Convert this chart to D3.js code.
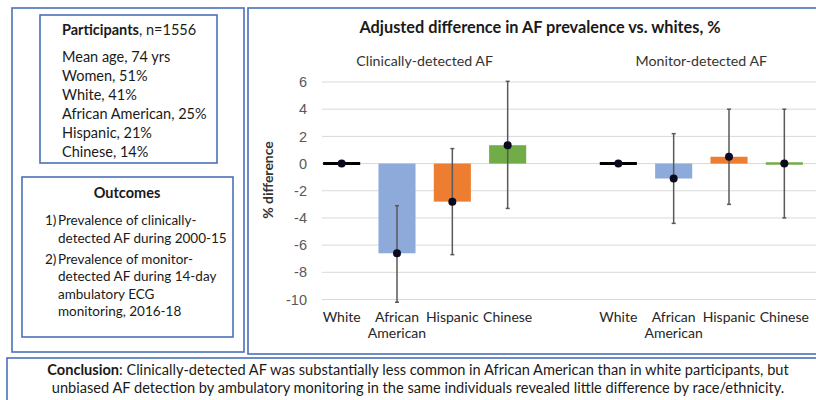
<!DOCTYPE html>
<html lang="en">
<head>
<meta charset="UTF-8">
<title>AF prevalence by race/ethnicity</title>
<style>
    body { margin: 0; background: #fff; }
    svg { display: block; font-family: Lato, "Open Sans", sans-serif; }
    .frame { fill: #fff; stroke: #4a70b8; stroke-width: 1.6; }
    .grid line { stroke: #d9d9d9; stroke-width: 1; }
    .tick-label { fill: #595959; font-size: 14.5px; }
    .cat-label { fill: #262626; font-size: 14px; }
</style>
</head>
<body>
<svg width="816" height="400"></svg>

<script src="https://d3js.org/d3.v7.min.js"></script>
<script>
    // ---- data ----
    var races = ["White", "African American", "Hispanic", "Chinese"];
    var groups = ["Clinically-detected AF", "Monitor-detected AF"];
    var raceColors = ["#000000", "#8eaadb", "#ed7d31", "#70ad47"];

    var clinicalVal = [0, -6.6, -2.8, 1.35];
    var clinicalLow = [0, -10.2, -6.7, -3.3];
    var clinicalHigh = [0, -3.1, 1.1, 6.05];

    var monitorVal = [0, -1.1, 0.5, 0];
    var monitorLow = [0, -4.4, -3.0, -4.0];
    var monitorHigh = [0, 2.2, 4.0, 4.0];

    var yTicks = [6, 4, 2, 0, -2, -4, -6, -8, -10];

    var participantLines = ["Mean age, 74 yrs", "Women, 51%", "White, 41%",
        "African American, 25%", "Hispanic, 21%", "Chinese, 14%"];
    var outcomeLines = [
        ["1)", "Prevalence of clinically-", "detected AF during 2000-15"],
        ["2)", "Prevalence of monitor-", "detected AF during 14-day", "ambulatory ECG", "monitoring, 2016-18"]
    ];
    var conclusionLines = [
        "Clinically-detected AF was substantially less common in African American than in white participants, but",
        "unbiased AF detection by ambulatory monitoring in the same individuals revealed little difference by race/ethnicity."
    ];

    var svg = d3.select("svg");

    // ---- panels ----
    svg.append("rect").attr("class", "frame").attr("x", 12).attr("y", 8).attr("width", 232).attr("height", 344);
    svg.append("rect").attr("class", "frame").attr("x", 40).attr("y", 15).attr("width", 177).attr("height", 148);
    svg.append("rect").attr("class", "frame").attr("x", 22).attr("y", 177).attr("width", 211).attr("height", 160);
    svg.append("rect").attr("class", "frame").attr("x", 248).attr("y", 8).attr("width", 580).attr("height", 346);
    svg.append("rect").attr("class", "frame").attr("x", 7).attr("y", 358).attr("width", 820).attr("height", 60);

    // participants
    var pt = svg.append("text").attr("x", 62).attr("y", 35).attr("font-size", 14.5).attr("fill", "#1a1a1a");
    pt.append("tspan").attr("font-weight", "bold").text("Participants");
    pt.append("tspan").text(", n=1556");
    svg.selectAll(".pline").data(participantLines).enter().append("text")
        .attr("class", "pline")
        .attr("x", 62)
        .attr("y", function (d, i) { return 62 + i * 19; })
        .attr("font-size", 14.5)
        .attr("fill", "#1a1a1a")
        .text(function (d) { return d; });

    // outcomes
    svg.append("text").attr("x", 127).attr("y", 198).attr("text-anchor", "middle")
        .attr("font-size", 14.5).attr("font-weight", "bold").attr("fill", "#1a1a1a").text("Outcomes");
    var oy = 225;
    outcomeLines.forEach(function (item) {
        item.slice(1).forEach(function (line, j) {
            if (j === 0) {
                svg.append("text").attr("x", 45).attr("y", oy).attr("font-size", 13.5).attr("fill", "#1a1a1a").text(item[0]);
            }
            svg.append("text").attr("x", 58).attr("y", oy).attr("font-size", 13.5).attr("fill", "#1a1a1a").text(line);
            oy += 17.5;
        });
        oy += 3.5;
    });

    // conclusion
    svg.selectAll(".cline").data(conclusionLines).enter().append("text")
        .attr("class", "cline")
        .attr("x", 418)
        .attr("y", function (d, i) { return 375 + i * 18; })
        .attr("text-anchor", "middle")
        .attr("font-size", 14.6)
        .attr("fill", "#1a1a1a")
        .each(function (d, i) {
            var t = d3.select(this);
            if (i === 0) t.append("tspan").attr("font-weight", "bold").text("Conclusion");
            t.append("tspan").text(i === 0 ? ": " + d : d);
        });

    // ---- chart ----
    var slots = [];
    groups.forEach(function (g, gi) {
        if (gi > 0) slots.push("gap");
        races.forEach(function (r) { slots.push(g + "|" + r); });
    });

    var x = d3.scaleBand()
        .domain(slots)
        .range([314, 812])
        .paddingInner(0.33)
        .paddingOuter(0.165);

    var y = d3.scaleLinear()
        .domain([-10, 6])
        .range([299.5, 82]);

    var gridLeft = 322, gridRight = 816;

    // grid
    svg.append("g").attr("class", "grid")
        .selectAll("line").data(yTicks).enter().append("line")
        .attr("x1", gridLeft).attr("x2", gridRight)
        .attr("y1", function (d) { return y(d); })
        .attr("y2", function (d) { return y(d); });

    // y axis (labels only, Excel style, plain hyphen minus)
    var yAxis = svg.append("g")
        .attr("transform", "translate(" + 311 + ",0)")
        .call(d3.axisLeft(y).tickValues(yTicks).tickSize(0).tickPadding(4)
            .tickFormat(function (d) { return String(d); }));
    yAxis.select(".domain").remove();
    yAxis.selectAll("text").attr("class", "tick-label").attr("font-family", null).attr("font-size", null);

    svg.append("text")
        .attr("transform", "translate(273," + 180 + ") rotate(-90)")
        .attr("text-anchor", "middle")
        .attr("font-size", 14)
        .attr("font-weight", "bold")
        .attr("fill", "#333")
        .text("% difference");

    // titles
    svg.append("text").attr("x", 540).attr("y", 33).attr("text-anchor", "middle")
        .attr("font-size", 16.3).attr("font-weight", "bold").attr("fill", "#1a1a1a")
        .text("Adjusted difference in AF prevalence vs. whites, %");

    var series = [
        { group: groups[0], val: clinicalVal, low: clinicalLow, high: clinicalHigh },
        { group: groups[1], val: monitorVal, low: monitorLow, high: monitorHigh }
    ];

    series.forEach(function (s) {
        var first = x(s.group + "|" + races[0]);
        var last = x(s.group + "|" + races[races.length - 1]) + x.bandwidth();
        svg.append("text")
            .attr("x", (first + last) / 2)
            .attr("y", 66)
            .attr("text-anchor", "middle")
            .attr("font-size", 14.2)
            .attr("fill", "#333")
            .text(s.group);

        var rows = races.map(function (r, i) {
            return { key: s.group + "|" + r, race: r, v: s.val[i], lo: s.low[i], hi: s.high[i], color: raceColors[i] };
        });

        var g = svg.append("g");
        var cx = function (d) { return x(d.key) + x.bandwidth() / 2; };

        // bars
        g.selectAll("rect").data(rows.filter(function (d) { return d.v !== 0; })).enter().append("rect")
            .attr("x", function (d) { return x(d.key); })
            .attr("width", x.bandwidth())
            .attr("y", function (d) { return y(Math.max(d.v, 0)); })
            .attr("height", function (d) { return Math.abs(y(d.v) - y(0)); })
            .attr("fill", function (d) { return d.color; });

        // zero-valued bars show as a flat stroke
        g.selectAll(".zero").data(rows.filter(function (d) { return d.v === 0; })).enter().append("line")
            .attr("class", "zero")
            .attr("x1", function (d) { return x(d.key); })
            .attr("x2", function (d) { return x(d.key) + x.bandwidth(); })
            .attr("y1", y(0)).attr("y2", y(0))
            .attr("stroke", function (d) { return d.color; })
            .attr("stroke-width", function (d) { return d.color === "#000000" ? 3 : 2.5; });

        // error bars
        var err = rows.filter(function (d) { return d.lo !== d.hi; });
        g.selectAll(".err").data(err).enter().append("line")
            .attr("class", "err")
            .attr("x1", cx).attr("x2", cx)
            .attr("y1", function (d) { return y(d.lo); })
            .attr("y2", function (d) { return y(d.hi); })
            .attr("stroke", "#595959").attr("stroke-width", 1.5);
        ["lo", "hi"].forEach(function (k) {
            g.selectAll(".cap-" + k).data(err).enter().append("line")
                .attr("x1", function (d) { return cx(d) - 2; })
                .attr("x2", function (d) { return cx(d) + 2; })
                .attr("y1", function (d) { return y(d[k]); })
                .attr("y2", function (d) { return y(d[k]); })
                .attr("stroke", "#595959").attr("stroke-width", 1.5);
        });

        // point estimates
        g.selectAll("circle").data(rows).enter().append("circle")
            .attr("cx", cx)
            .attr("cy", function (d) { return y(d.v); })
            .attr("r", 4)
            .attr("fill", "#0a0a1e");

        // category labels
        g.selectAll(".cat").data(rows).enter().append("text")
            .attr("class", "cat-label")
            .attr("x", cx)
            .attr("y", 322)
            .attr("text-anchor", "middle")
            .each(function (d) {
                var words = d.race.split(" ");
                var t = d3.select(this);
                words.forEach(function (w, i) {
                    t.append("tspan").attr("x", cx(d)).attr("dy", i === 0 ? 0 : 16).text(w);
                });
            });
    });
</script>
</body>
</html>
